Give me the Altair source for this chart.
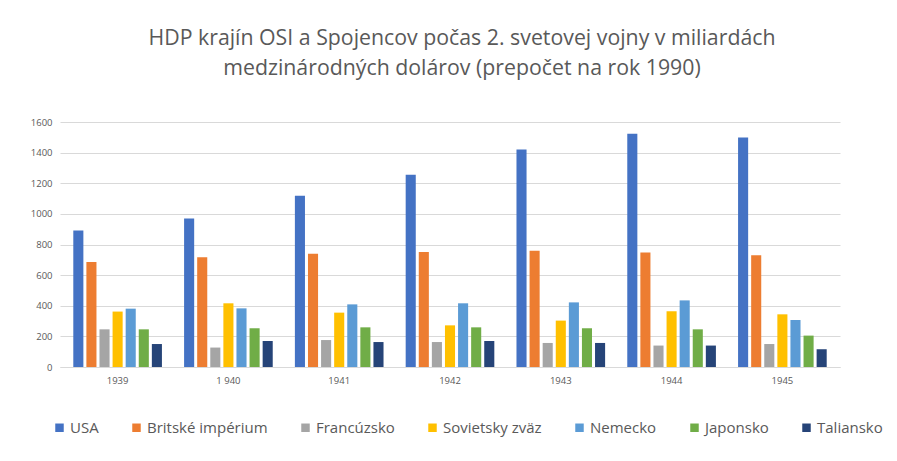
import altair as alt
import pandas as pd

years = ["1939", "1 940", "1941", "1942", "1943", "1944", "1945"]
countries = ["USA", "Britské impérium", "Francúzsko", "Sovietsky zväz", "Nemecko", "Japonsko", "Taliansko"]
colors = ["#4472C4", "#ED7D31", "#A5A5A5", "#FFC000", "#5B9BD5", "#70AD47", "#264478"]

usa = [891, 969, 1119, 1256, 1420, 1524, 1498]
britain = [686, 716, 740, 751, 760, 747, 729]
france = [246, 127, 176, 163, 157, 140, 150]
ussr = [362, 416, 355, 272, 303, 364, 344]
germany = [381, 383, 409, 416, 422, 435, 307]
japan = [246, 253, 259, 259, 253, 246, 205]
italy = [150, 170, 163, 170, 157, 140, 116]
y_ticks = [0, 200, 400, 600, 800, 1000, 1200, 1400, 1600]

series = [usa, britain, france, ussr, germany, japan, italy]
rows = []
for c, vals in zip(countries, series):
    for y, v in zip(years, vals):
        rows.append({"rok": y, "krajina": c, "hdp": v})
df = pd.DataFrame(rows)

font = "Open Sans"
title_text = ["HDP krajín OSI a Spojencov počas 2. svetovej vojny v miliardách",
              "medzinárodných dolárov (prepočet na rok 1990)"]

chart = alt.Chart(df).mark_bar().encode(
    x=alt.X("rok:N", sort=years, title=None,
            scale=alt.Scale(paddingInner=0.2, paddingOuter=0.12),
            axis=alt.Axis(labelAngle=0, labelFontSize=9.5, labelColor="#595959",
                          labelFont=font, ticks=False, domainColor="#D9D9D9",
                          labelPadding=8)),
    xOffset=alt.XOffset("krajina:N", sort=countries,
                        scale=alt.Scale(paddingInner=0.23, paddingOuter=0)),
    y=alt.Y("hdp:Q", title=None,
            scale=alt.Scale(domain=[0, 1600]),
            axis=alt.Axis(values=y_ticks, format="d",
                          labelFontSize=9.5, labelColor="#595959", labelFont=font,
                          ticks=False, domain=False, gridColor="#D9D9D9",
                          labelPadding=8)),
    color=alt.Color("krajina:N", sort=countries,
                    scale=alt.Scale(domain=countries, range=colors),
                    legend=alt.Legend(title=None, orient="none", direction="horizontal",
                                      legendX=-8, legendY=298,
                                      symbolType="square", symbolSize=72,
                                      symbolStrokeWidth=0,
                                      labelFontSize=15, labelFont=font,
                                      labelColor="#595959", columnPadding=30,
                                      labelOffset=3, columns=7)),
).properties(
    width=780,
    height=245,
    background="white",
    title=alt.TitleParams(text=title_text, fontSize=21.3, font=font, color="#595959",
                          fontWeight="normal", anchor="middle", offset=38,
                          lineHeight=30, dx=12),
    padding={"left": 52, "top": 114, "right": 49, "bottom": 80},
    autosize=alt.AutoSizeParams(type="none"),
).configure_view(stroke=None)

chart.save("out.html", embed_options={"renderer": "svg", "actions": False})
